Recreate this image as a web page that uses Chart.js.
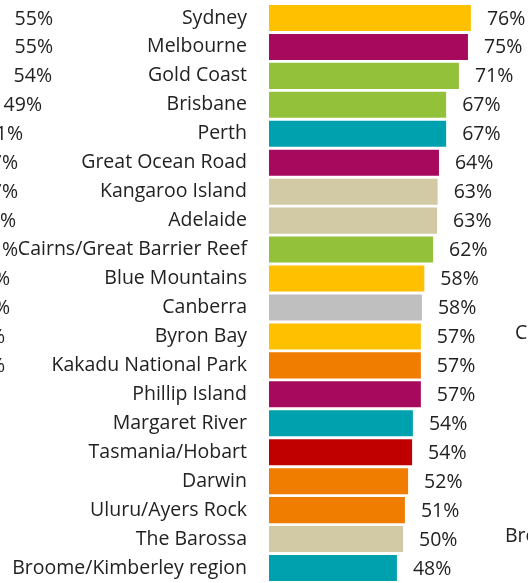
<!DOCTYPE html>
<html>
<head>
<meta charset="utf-8">
<script src="https://cdn.jsdelivr.net/npm/chart.js@4"></script>
<style>
	html, body { margin: 0; padding: 0; background: #fff; overflow: hidden; }
	canvas { display: block; }
</style>
</head>
<body>
<canvas id="chart" width="528" height="583"></canvas>
<script>
// destinations, top to bottom
const places = ['Sydney', 'Melbourne', 'Gold Coast', 'Brisbane', 'Perth', 'Great Ocean Road',
	'Kangaroo Island', 'Adelaide', 'Cairns/Great Barrier Reef', 'Blue Mountains', 'Canberra',
	'Byron Bay', 'Kakadu National Park', 'Phillip Island', 'Margaret River', 'Tasmania/Hobart',
	'Darwin', 'Uluru/Ayers Rock', 'The Barossa', 'Broome/Kimberley region'];
// share in %
const shares = [75.9, 74.8, 71.4, 66.6, 66.6, 63.9, 63.4, 63.2, 61.7, 58.4, 57.5, 57.1, 57.1, 57.1,
	54.1, 53.8, 52.3, 51.1, 50.4, 48.1];
// state colour of each destination
const barColors = ['#FFC000', '#A7095C', '#94C13A', '#94C13A', '#00A1AE', '#A7095C', '#D1CAA4',
	'#D1CAA4', '#94C13A', '#FFC000', '#BFBFBF', '#FFC000', '#F07C00', '#A7095C', '#00A1AE',
	'#C00000', '#F07C00', '#F07C00', '#D1CAA4', '#00A1AE'];

// bits of the neighbouring charts that show at the edges
const leftBits = ['55%', '55%', '54%', '49%', '1%', '7%', '7%', '%', '%', '%', '%', '%', '%'];
const leftBitEnds = [53, 53, 52, 42, 23, 18, 18, 16, 18, 10, 10, 5, 5];
const rightBits = [{ row: 11, text: 'C', x: 515 }, { row: 18, text: 'Bro', x: 505 }];

const FONT = '"Open Sans", "Noto Sans", sans-serif';
const FSIZE = 19.5;
const INK = '#222';

const labelPlugin = {
	id: 'labels',
	afterDatasetsDraw(chart) {
		const ctx = chart.ctx;
		const meta = chart.getDatasetMeta(0);
		const ys = chart.scales.y;
		ctx.save();
		ctx.font = FSIZE + 'px ' + FONT;
		ctx.fillStyle = INK;
		ctx.textBaseline = 'middle';
		ctx.textAlign = 'left';
		meta.data.forEach((bar, i) => {
			ctx.fillText(Math.round(shares[i]) + '%', bar.x + 16, bar.y + 1);
		});
		ctx.textAlign = 'right';
		leftBits.forEach((t, i) => {
			ctx.fillText(t, leftBitEnds[i], ys.getPixelForValue(i) + 1);
		});
		ctx.textAlign = 'left';
		rightBits.forEach(b => {
			ctx.fillText(b.text, b.x, ys.getPixelForValue(b.row) - 3);
		});
		ctx.restore();
	}
};

new Chart(document.getElementById('chart'), {
	type: 'bar',
	data: {
		labels: places,
		datasets: [{
			data: shares,
			backgroundColor: barColors,
			borderWidth: 0,
			barPercentage: 0.9,
			categoryPercentage: 1
		}]
	},
	options: {
		indexAxis: 'y',
		responsive: false,
		animation: false,
		layout: { padding: { top: 3.5, bottom: 0.5, left: 0, right: 1 } },
		plugins: {
			legend: { display: false },
			tooltip: { enabled: false }
		},
		scales: {
			x: {
				display: false,
				min: 0,
				max: 97
			},
			y: {
				grid: { display: false, drawTicks: false },
				border: { display: false },
				afterFit: (scale) => {
					scale.width = 269;
					scale.paddingTop = 0;
					scale.paddingBottom = 0;
				},
				ticks: {
					padding: 22,
					color: INK,
					autoSkip: false,
					font: { family: FONT, size: FSIZE }
				}
			}
		}
	},
	plugins: [labelPlugin]
});
</script>
</body>
</html>
